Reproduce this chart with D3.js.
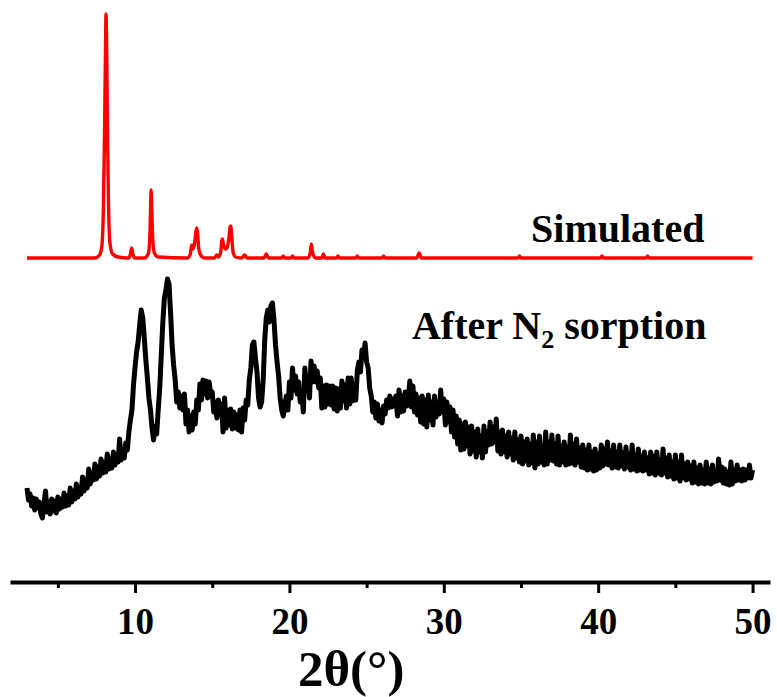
<!DOCTYPE html>
<html>
<head>
<meta charset="utf-8">
<script src="https://cdn.jsdelivr.net/npm/d3@7"></script>
<style>
body { margin: 0; background: #fff; }
svg text { font-family: "Liberation Serif", "Times New Roman", serif; font-weight: bold; fill: #000; }
</style>
</head>
<body>
<div id="chart"></div>
<script>
// 2theta ticks
const xTicks = [10, 20, 30, 40, 50];
const xMinorTicks = [5, 15, 25, 35, 45];

// stacking offset of the simulated pattern (a.u.)
const simOffset = 324;

// simulated pattern [2theta, intensity above its own baseline]
const simulated = [
    [3.0,0],[7.4,0],[7.7,3],[7.85,12],[7.95,50],[8.02,120],[8.08,200],[8.12,244],[8.17,200],[8.22,120],[8.28,55],[8.38,14],[8.55,4],[8.9,1],
    [9.6,0],[9.7,4],[9.78,10],[9.86,4],[9.98,0],
    [10.6,0],[10.85,4],[10.95,18],[11.0,45],[11.04,68],[11.09,45],[11.15,18],[11.25,5],[11.5,1],
    [13.4,0],[13.58,4],[13.67,13],[13.75,9],[13.85,14],[13.95,27],[14.0,30],[14.06,24],[14.12,10],[14.25,3],[14.5,0],
    [15.15,0],[15.29,3],[15.4,1],[15.55,6],[15.62,17],[15.66,19],[15.72,14],[15.85,9],[15.95,10],[16.08,20],[16.16,31],[16.2,32],[16.26,22],[16.35,6],[16.5,1],
    [16.9,0],[17.1,3],[17.25,0],[18.35,0],[18.5,4],[18.65,0],[19.5,0],[19.6,2],[19.7,0],[20.1,0],[20.2,2],[20.3,0],
    [21.2,0],[21.35,5],[21.42,14],[21.5,5],[21.7,0],[22.1,0],[22.2,4],[22.3,0],[23.05,0],[23.15,2],[23.25,0],
    [24.3,0],[24.4,2],[24.5,0],[26.0,0],[26.1,2],[26.2,0],[28.25,0],[28.4,5],[28.55,0],
    [34.8,0],[34.9,2],[35.0,0],[40.15,0],[40.25,2],[40.35,0],[43.1,0],[43.2,2],[43.3,0],[50.0,0]
];

// measured pattern after N2 sorption [2theta, intensity]
const afterN2 = [
    [3.0,94],[3.1,82],[3.2,88],[3.3,76],[3.4,84],[3.5,72],[3.6,83],[3.7,74],[3.8,80],[3.9,68],
    [4.0,64],[4.1,78],[4.2,91],[4.3,70],[4.4,80],[4.5,68],[4.6,83],[4.7,71],[4.8,81],[4.9,69],
    [5.0,85],[5.1,73],[5.2,83],[5.3,75],[5.4,89],[5.5,76],[5.6,86],[5.7,77],[5.8,94],[5.9,80],
    [6.0,91],[6.1,83],[6.2,98],[6.3,85],[6.4,94],[6.5,88],[6.6,105],[6.7,91],[6.8,102],[6.9,94],
    [7.0,113],[7.1,98],[7.2,109],[7.3,102],[7.4,118],[7.5,103],[7.6,115],[7.7,106],[7.8,123],[7.9,109],
    [8.0,119],[8.1,110],[8.2,128],[8.3,113],[8.4,123],[8.5,114],[8.6,130],[8.7,117],[8.8,127],[8.9,120],
    [9.0,143],[9.1,122],[9.2,131],[9.3,124],[9.4,139],[9.5,132],[9.6,150],[9.7,162],[9.8,172],[9.9,197],
    [10.0,215],[10.1,230],[10.2,240],[10.3,257],[10.4,272],[10.5,264],[10.6,244],[10.7,222],[10.8,204],[10.9,184],
    [11.0,172],[11.1,154],[11.2,142],[11.3,156],[11.4,148],[11.5,172],[11.6,194],[11.7,227],[11.8,260],[11.9,284],
    [12.0,292],[12.1,303],[12.2,298],[12.3,270],[12.4,237],[12.5,217],[12.6,202],[12.7,180],[12.8,190],[12.9,174],
    [13.0,186],[13.1,172],[13.2,188],[13.3,158],[13.4,172],[13.5,150],[13.6,166],[13.7,152],[13.8,170],[13.9,158],
    [14.0,182],[14.1,172],[14.2,198],[14.3,182],[14.4,202],[14.5,188],[14.6,201],[14.7,184],[14.8,200],[14.9,188],
    [15.0,190],[15.1,170],[15.2,180],[15.3,164],[15.4,182],[15.5,168],[15.6,178],[15.7,150],[15.8,184],[15.9,154],
    [16.0,172],[16.1,157],[16.2,173],[16.3,153],[16.4,170],[16.5,154],[16.6,167],[16.7,152],[16.8,172],[16.9,150],
    [17.0,174],[17.1,162],[17.2,182],[17.3,177],[17.4,202],[17.5,214],[17.6,237],[17.7,240],[17.8,224],[17.9,210],
    [18.0,184],[18.1,175],[18.2,180],[18.3,202],[18.4,242],[18.5,264],[18.6,272],[18.7,260],[18.8,276],[18.9,279],
    [19.0,262],[19.1,237],[19.2,220],[19.3,206],[19.4,184],[19.5,172],[19.6,166],[19.7,176],[19.8,186],[19.9,172],
    [20.0,200],[20.1,184],[20.2,214],[20.3,192],[20.4,206],[20.5,188],[20.6,200],[20.7,180],[20.8,190],[20.9,170],
    [21.0,214],[21.1,195],[21.2,204],[21.3,184],[21.4,221],[21.5,200],[21.6,216],[21.7,200],[21.8,211],[21.9,194],
    [22.0,204],[22.1,174],[22.2,196],[22.3,175],[22.4,197],[22.5,178],[22.6,196],[22.7,177],[22.8,196],[22.9,173],
    [23.0,194],[23.1,171],[23.2,193],[23.3,174],[23.4,201],[23.5,181],[23.6,197],[23.7,174],[23.8,204],[23.9,178],
    [24.0,204],[24.1,181],[24.2,197],[24.3,182],[24.4,212],[24.5,220],[24.6,210],[24.7,232],[24.8,224],[24.9,239],
    [25.0,220],[25.1,214],[25.2,194],[25.3,186],[25.4,170],[25.5,180],[25.6,164],[25.7,178],[25.8,161],[25.9,172],
    [26.0,159],[26.1,176],[26.2,168],[26.3,182],[26.4,174],[26.5,186],[26.6,175],[26.7,183],[26.8,176],[26.9,186],
    [27.0,166],[27.1,192],[27.2,170],[27.3,186],[27.4,171],[27.5,190],[27.6,176],[27.7,184],[27.8,201],[27.9,175],
    [28.0,196],[28.1,170],[28.2,188],[28.3,167],[28.4,184],[28.5,160],[28.6,186],[28.7,158],[28.8,182],[28.9,155],
    [29.0,187],[29.1,162],[29.2,180],[29.3,157],[29.4,186],[29.5,165],[29.6,178],[29.7,168],[29.8,192],[29.9,170],
    [30.0,183],[30.1,157],[30.2,180],[30.3,160],[30.4,175],[30.5,150],[30.6,172],[30.7,145],[30.8,166],[30.9,138],
    [31.0,162],[31.1,132],[31.2,158],[31.3,133],[31.4,160],[31.5,136],[31.6,155],[31.7,128],[31.8,156],[31.9,131],
    [32.0,150],[32.1,125],[32.2,153],[32.3,130],[32.4,146],[32.5,124],[32.6,156],[32.7,130],[32.8,150],[32.9,137],
    [33.0,160],[33.1,138],[33.2,155],[33.3,140],[33.4,163],[33.5,131],[33.6,150],[33.7,128],[33.8,152],[33.9,130],
    [34.0,146],[34.1,125],[34.2,150],[34.3,128],[34.4,144],[34.5,122],[34.6,150],[34.7,124],[34.8,142],[34.9,120],
    [35.0,146],[35.1,118],[35.2,140],[35.3,121],[35.4,143],[35.5,117],[35.6,138],[35.7,119],[35.8,147],[35.9,114],
    [36.0,140],[36.1,118],[36.2,146],[36.3,120],[36.4,136],[36.5,117],[36.6,150],[36.7,118],[36.8,140],[36.9,122],
    [37.0,147],[37.1,121],[37.2,138],[37.3,118],[37.4,146],[37.5,117],[37.6,136],[37.7,120],[37.8,140],[37.9,117],
    [38.0,135],[38.1,118],[38.2,147],[38.3,119],[38.4,138],[38.5,117],[38.6,143],[38.7,120],[38.8,134],[38.9,115],
    [39.0,137],[39.1,114],[39.2,132],[39.3,112],[39.4,137],[39.5,113],[39.6,130],[39.7,111],[39.8,133],[39.9,112],
    [40.0,128],[40.1,114],[40.2,137],[40.3,116],[40.4,133],[40.5,118],[40.6,140],[40.7,117],[40.8,131],[40.9,114],
    [41.0,137],[41.1,115],[41.2,130],[41.3,114],[41.4,137],[41.5,116],[41.6,129],[41.7,113],[41.8,135],[41.9,115],
    [42.0,128],[42.1,112],[42.2,137],[42.3,113],[42.4,127],[42.5,111],[42.6,133],[42.7,112],[42.8,126],[42.9,111],
    [43.0,130],[43.1,112],[43.2,124],[43.3,108],[43.4,130],[43.5,109],[43.6,126],[43.7,107],[43.8,130],[43.9,109],
    [44.0,122],[44.1,107],[44.2,133],[44.3,109],[44.4,124],[44.5,105],[44.6,127],[44.7,106],[44.8,120],[44.9,103],
    [45.0,127],[45.1,104],[45.2,120],[45.3,101],[45.4,127],[45.5,104],[45.6,118],[45.7,102],[45.8,120],[45.9,103],
    [46.0,116],[46.1,99],[46.2,120],[46.3,100],[46.4,114],[46.5,98],[46.6,117],[46.7,99],[46.8,112],[46.9,98],
    [47.0,120],[47.1,99],[47.2,113],[47.3,98],[47.4,117],[47.5,100],[47.6,111],[47.7,101],[47.8,123],[47.9,102],
    [48.0,115],[48.1,99],[48.2,113],[48.3,98],[48.4,110],[48.5,97],[48.6,120],[48.7,98],[48.8,112],[48.9,101],
    [49.0,117],[49.1,102],[49.2,112],[49.3,101],[49.4,113],[49.5,102],[49.6,112],[49.7,104],[49.8,117],[49.9,104],
    [50.0,112]
];

const width = 777, height = 697;

const svg = d3.select('#chart').append('svg')
    .attr('width', width)
    .attr('height', height)
    .attr('viewBox', '0 0 ' + width + ' ' + height);

const x = d3.scaleLinear().domain([1.9, 51.13]).range([10, 770]);
const y = d3.scaleLinear().domain([0, 580]).range([582, 2]);

// LINES
const line = d3.line()
    .x(function(d){ return x(d[0]); })
    .y(function(d){ return y(d[1]); });

svg.append('path')
    .datum(afterN2)
    .attr('fill', 'none')
    .attr('stroke', '#000')
    .attr('stroke-width', 5)
    .attr('stroke-linejoin', 'round')
    .attr('d', line);

svg.append('path')
    .datum(simulated.map(function(d){ return [d[0], d[1] + simOffset]; }))
    .attr('fill', 'none')
    .attr('stroke', '#ff0000')
    .attr('stroke-width', 3.4)
    .attr('stroke-linejoin', 'round')
    .attr('d', line.curve(d3.curveMonotoneX));

// AXIS
const xAxis = svg.append('g')
    .attr('class', 'axis axis--x')
    .attr('transform', 'translate(0,' + y(0) + ')')
    .call(d3.axisBottom(x).tickValues(xTicks).tickSize(11).tickSizeOuter(0).tickPadding(15).tickFormat(d3.format('d')));

xAxis.select('.domain').attr('stroke-width', 4);
xAxis.selectAll('.tick line').attr('stroke-width', 3);
xAxis.selectAll('.tick text').attr('font-size', 37).style('font-family', '"Liberation Serif", serif');

const xMinor = svg.append('g')
    .attr('class', 'axis axis--minor')
    .attr('transform', 'translate(0,' + y(0) + ')')
    .call(d3.axisBottom(x).tickValues(xMinorTicks).tickSize(6).tickFormat(''));
xMinor.select('.domain').remove();
xMinor.selectAll('.tick line').attr('stroke-width', 3);

svg.append('text')
    .attr('x', 298)
    .attr('y', 686)
    .attr('font-size', 51)
    .text('2θ(°)');

// LABELS
svg.append('text')
    .attr('x', x(35.65))
    .attr('y', y(340))
    .attr('font-size', 40)
    .text('Simulated');

const lab = svg.append('text')
    .attr('x', x(27.94))
    .attr('y', y(243))
    .attr('font-size', 40);
lab.append('tspan').text('After N');
lab.append('tspan').attr('font-size', 26).attr('dy', 9).text('2');
lab.append('tspan').attr('dy', -9).text(' sorption');
</script>
</body>
</html>
